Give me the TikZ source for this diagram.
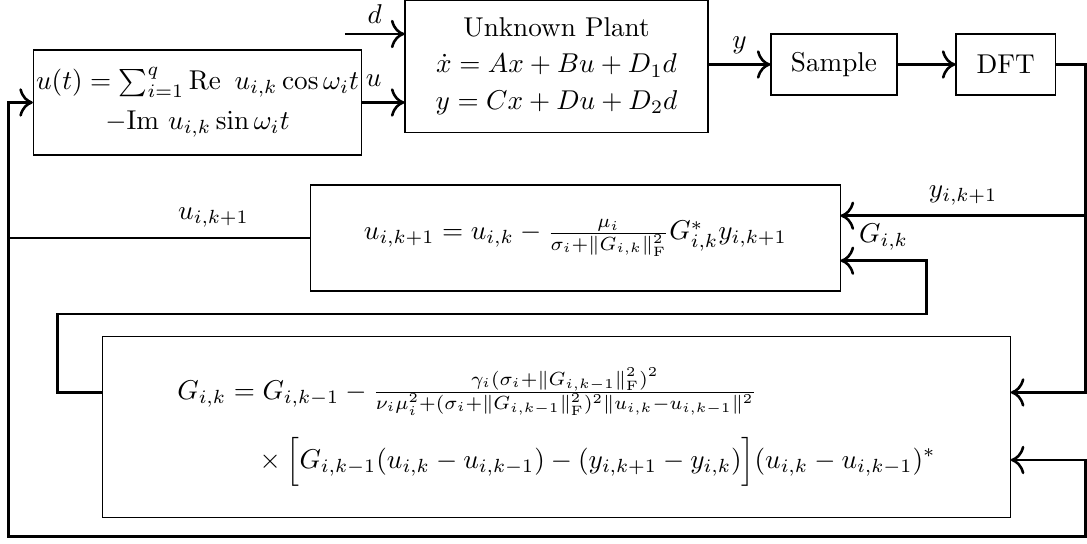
\documentclass[tikz,border=0pt]{standalone}
\usepackage{amsmath}
\usetikzlibrary{arrows.meta}

\begin{document}
\begin{tikzpicture}[transform shape, >={Computer Modern Rightarrow[scale=1.35]},
        block/.style={shape=rectangle, draw, inner sep=1pt, align=center},
        wire/.style={line width=0.95pt}]
        % Paths, nodes and wires:
        \useasboundingbox (0, 0) rectangle (14.044, -7.028);
        \node[block, minimum width=4.2cm, minimum height=1.357cm] (input) at (2.552, -1.324){$u(t) = \sum_{i=1}^q \mathrm{Re}\ \, u_{i,k}\cos\omega_i t$\\[2.7pt] $-\mathrm{Im}\ u_{i,k}\sin\omega_i t$};
        \node[block, minimum width=3.915cm, minimum height=1.71cm] (plant) at (7.19, -0.855){Unknown Plant\\[1.5pt] $\dot{x} = Ax + Bu + D_1 d$\\[1.5pt] $y = Cx + Du + D_2 d$};
        \node[block, minimum width=1.628cm, minimum height=0.788cm] (sample) at (10.775, -0.833){Sample};
        \node[block, minimum width=1.283cm, minimum height=0.788cm] (dft) at (12.993, -0.833){DFT};
        \node[block, minimum width=6.839cm, minimum height=1.37cm] (upd) at (7.434, -3.075){$u_{i,k+1} = u_{i,k} - \frac{\mu_i}{\sigma_i+\|G_{i,k}\|_{\mathrm{F}}^2} G_{i,k}^* y_{i,k+1}$};
        \node[block, minimum width=11.726cm, minimum height=2.339cm] (gbox) at (7.19, -5.52){$\begin{aligned} G_{i,k} &= G_{i,k-1} - \tfrac{\gamma_i(\sigma_i+\|G_{i,k-1}\|_{\mathrm{F}}^2)^2}{\nu_i\mu_i^2+(\sigma_i+\|G_{i,k-1}\|_{\mathrm{F}}^2)^2\|u_{i,k}-u_{i,k-1}\|^2}\\[4pt] &\quad\times\Big[G_{i,k-1}(u_{i,k}-u_{i,k-1}) - (y_{i,k+1}-y_{i,k})\Big](u_{i,k}-u_{i,k-1})^*\end{aligned}$};
        \coordinate (dstart) at (4.457, -0.439);
        \coordinate (tap) at (14.028, -0.833);
        \coordinate (yin) at ([yshift=0.288cm]upd.east);
        \coordinate (gin) at ([yshift=-0.293cm]upd.east);
        \coordinate (gleft) at (0.740, -4.057);
        \coordinate (gturn) at (11.973, -4.057);
        \coordinate (gw) at ([yshift=0.45cm]gbox.west);
        \coordinate (ge) at ([yshift=0.45cm]gbox.east);
        \coordinate (ge2) at ([yshift=-0.423cm]gbox.east);
        \coordinate (bl) at (0.107, -6.934);
        \coordinate (br) at (14.028, -6.934);
        \draw[wire, ->] (dstart) -- node[above]{$d$} (plant.west |- dstart);
        \draw[wire, ->] (input.east) -- node[above=2pt, pos=0.27]{$u$} (input.east -| plant.west);
        \draw[wire, ->] (sample.west -| plant.east) -- node[above]{$y$} (sample.west);
        \draw[wire, ->] (sample) -- (dft);
        \draw[wire, ->] (dft.east) -- (tap) |- (ge);
        \draw[wire, ->] (tap |- yin) -- node[above]{$y_{i,k+1}$} (yin);
        \draw[wire, ->] (gw) -| (gleft) -- (gturn) |- node[pos=0.75, above]{$G_{i,k}$} (gin);
        \draw[wire] (upd.west) -- node[above, pos=0.32]{$u_{i,k+1}$} (upd.west -| bl);
        \draw[wire, <->] (input.west) -| (bl) -- (br) |- (ge2);
    \end{tikzpicture}
\end{document}
